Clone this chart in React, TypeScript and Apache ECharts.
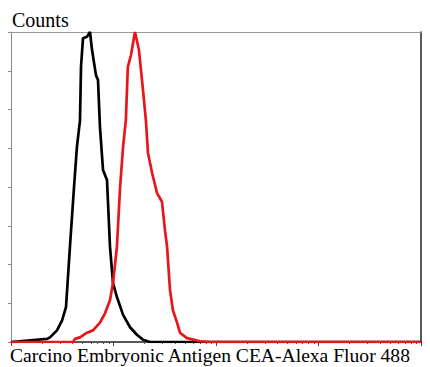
import React, { useEffect, useRef } from "react";
import * as echarts from "echarts";

// Fluorescence intensity (log scale) and counts for the isotype control (black)
const controlIntensity = [1, 2.25, 2.4, 2.81, 3.15, 3.44, 3.76, 4.12, 4.4, 4.71, 4.82, 5.04, 5.51, 5.9, 6.17, 6.75, 7.06, 7.38, 7.9, 8.64, 9.24, 9.89, 10.8, 12.4, 14.5, 17.0, 19.4, 22.7, 10000];
const controlCounts = [0, 4, 6, 15, 28, 45, 123, 200, 252, 286, 355, 392, 394, 400, 377, 344, 338, 277, 222, 209, 123, 76, 58, 35, 19, 9, 3, 0, 0];

// Fluorescence intensity and counts for the CEA-stained sample (red)
const sampleIntensity = [1, 4.03, 4.21, 4.71, 5.51, 6.31, 7.38, 8.26, 9.24, 9.89, 10.8, 11.6, 12.4, 13.2, 13.8, 14.8, 16.2, 17.7, 19.4, 20.7, 21.7, 23.8, 26.6, 29.7, 31.8, 33.3, 35.6, 38.0, 41.7, 44.5, 52.1, 69.8, 87.4, 10000];
const sampleCounts = [0, 0, 4, 6, 12, 15, 25, 37, 54, 76, 123, 200, 252, 286, 355, 370, 400, 377, 325, 286, 244, 218, 192, 181, 144, 123, 67, 41, 25, 12, 5, 1, 0, 0];

// Axis ticks
const majorTicksX = [1, 10, 100, 1000, 10000];
const minorTicksX = [
  2, 3, 4, 5, 6, 7, 8, 9,
  20, 30, 40, 50, 60, 70, 80, 90,
  200, 300, 400, 500, 600, 700, 800, 900,
  2000, 3000, 4000, 5000, 6000, 7000, 8000, 9000,
];
const yMax = 400;
const yInterval = 50;

const yTitle = "Counts";
const xTitle = "Carcino Embryonic Antigen CEA-Alexa Fluor 488";

export default function App() {
  const ref = useRef<HTMLDivElement>(null);

  useEffect(() => {
    if (!ref.current) return;
    const chart = echarts.init(ref.current, null, { renderer: "svg" });
    const toPairs = (xs: number[], ys: number[]) => xs.map((x, i) => [x, ys[i]]);
    const font = "'Liberation Serif', 'Times New Roman', serif";

    chart.setOption({
      animation: false,
      backgroundColor: "#ffffff",
      grid: { left: 11, right: 9, top: 32, bottom: 25, containLabel: false },
      xAxis: [
        {
          type: "log",
          logBase: 10,
          min: 1,
          max: 10000,
          position: "bottom",
          axisLine: { show: true, lineStyle: { color: "#222", width: 1.5 } },
          axisTick: { show: true, inside: false, length: 4, customValues: majorTicksX, lineStyle: { color: "#444", width: 1 } },
          axisLabel: { show: false },
          splitLine: { show: false },
        },
        {
          type: "log",
          logBase: 10,
          min: 1,
          max: 10000,
          position: "bottom",
          axisLine: { show: false },
          axisTick: { show: true, inside: false, length: 2, customValues: minorTicksX, lineStyle: { color: "#555", width: 1 } },
          axisLabel: { show: false },
          splitLine: { show: false },
        },
        {
          type: "log",
          logBase: 10,
          min: 1,
          max: 10000,
          position: "top",
          axisLine: { show: true, lineStyle: { color: "#999", width: 1 } },
          axisTick: { show: false },
          axisLabel: { show: false },
          splitLine: { show: false },
        },
      ],
      yAxis: [
        {
          type: "value",
          min: 0,
          max: yMax,
          interval: yInterval,
          position: "left",
          axisLine: { show: true, lineStyle: { color: "#8a8a8a", width: 1 } },
          axisTick: { show: true, inside: false, length: 3, lineStyle: { color: "#8a8a8a" } },
          axisLabel: { show: false },
          splitLine: { show: false },
        },
        {
          type: "value",
          min: 0,
          max: yMax,
          interval: yInterval,
          position: "right",
          axisLine: { show: true, lineStyle: { color: "#222", width: 1.5 } },
          axisTick: { show: false },
          axisLabel: { show: false },
          splitLine: { show: false },
        },
      ],
      series: [
        {
          type: "line",
          name: "Control",
          data: toPairs(controlIntensity, controlCounts),
          showSymbol: false,
          symbol: "none",
          lineStyle: { color: "#000000", width: 2.7 },
          z: 2,
        },
        {
          type: "line",
          name: "CEA",
          data: toPairs(sampleIntensity, sampleCounts),
          showSymbol: false,
          symbol: "none",
          lineStyle: { color: "#e8151b", width: 2.7 },
          z: 3,
        },
      ],
      graphic: [
        {
          type: "text",
          left: 12,
          top: 10,
          style: { text: yTitle, font: `20px ${font}`, fill: "#000" },
        },
        {
          type: "text",
          left: 10,
          top: 345,
          style: { text: xTitle, font: `19.6px ${font}`, fill: "#000" },
        },
      ],
    });
    return () => chart.dispose();
  }, []);

  return (
    <div
      ref={ref}
      style={{ position: "fixed", left: 0, top: 0, width: 430, height: 367 }}
    />
  );
}
